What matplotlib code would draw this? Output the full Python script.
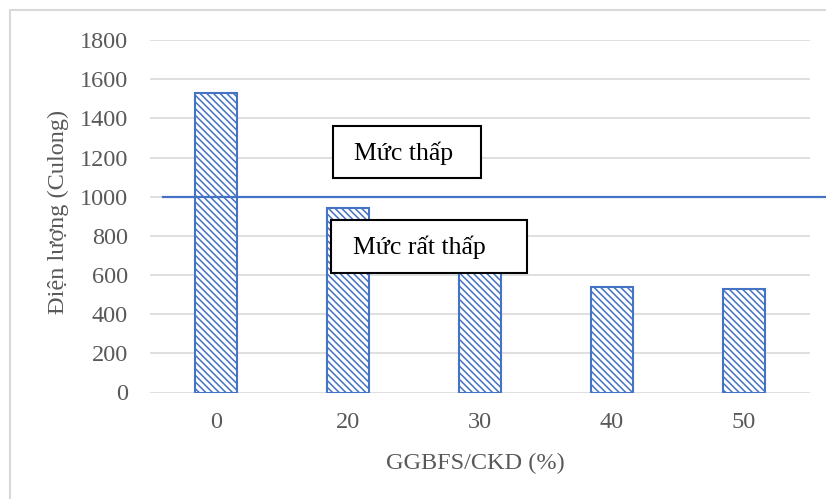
import matplotlib
matplotlib.use("Agg")
import matplotlib.pyplot as plt
from matplotlib.patches import Rectangle
import numpy as np

categories = ["0", "20", "30", "40", "50"]
values = [1530, 940, 680, 540, 530]
yticks = [0, 200, 400, 600, 800, 1000, 1200, 1400, 1600, 1800]
threshold = 1000
label_low = "Mức thấp"
label_very_low = "Mức rất thấp"
xlabel = "GGBFS/CKD (%)"
ylabel = "Điện lượng (Culong)"

plt.rcParams['font.family'] = ['Liberation Serif', 'DejaVu Serif']
plt.rcParams['hatch.linewidth'] = 1.1

W, H = 826, 499
fig = plt.figure(figsize=(W / 100, H / 100), dpi=100)
fig.patch.set_facecolor('white')

# outer chart border
fig.patches.append(Rectangle((10 / W, -0.05), 1.05, 1 - 10 / H + 0.05,
                             transform=fig.transFigure, fill=False,
                             edgecolor='#D9D9D9', linewidth=1.5, clip_on=False))

ax = fig.add_axes([150 / W, 1 - 392.5 / H, (810 - 150) / W, (392.5 - 40) / H])
blue = '#4472C4'
x = np.arange(len(categories))
ax.bar(x, values, width=0.32, color='white', edgecolor=blue, hatch='\\\\\\\\\\',
       linewidth=1.5, zorder=3)

ax.set_xlim(-0.5, len(categories) - 0.5)
ax.set_ylim(0, 1800)
ax.set_yticks(yticks)
ax.set_xticks(x)
ax.set_xticklabels(categories)
ax.grid(axis='y', color='#D9D9D9', linewidth=1.2, zorder=0)
ax.set_axisbelow(True)
for s in ax.spines.values():
    s.set_visible(False)
ax.tick_params(length=0, labelsize=17.5, labelcolor='#595959')
ax.tick_params(axis='y', pad=16)
ax.tick_params(axis='x', pad=14)
ax.set_xlabel(xlabel, fontsize=17.5, color='#595959')
ax.set_ylabel(ylabel, fontsize=17.5, color='#595959')
ax.xaxis.set_label_coords(0.493, -0.20)
ax.yaxis.set_label_coords(-0.139, 0.512)
ax.xaxis.label.set_va('center')
ax.yaxis.label.set_va('center')

# threshold line
ax.plot([-0.40, 4.7], [threshold, threshold], color=blue, linewidth=1.6,
        clip_on=False, zorder=4)

# annotation boxes
ax.add_patch(Rectangle((0.888, 1095), 2.011 - 0.888, 1361 - 1095, facecolor='white',
                       edgecolor='black', linewidth=1.5, zorder=5))
ax.text(1.048, (1095 + 1361) / 2 - 5, label_low, ha='left', va='center',
        fontsize=18.5, color='black', zorder=6)
ax.add_patch(Rectangle((0.873, 610), 2.353 - 0.873, 881 - 610, facecolor='white',
                       edgecolor='black', linewidth=1.5, zorder=5))
ax.text(1.040, (610 + 881) / 2 - 5, label_very_low, ha='left', va='center',
        fontsize=18.5, color='black', zorder=6)

fig.savefig('out.png', dpi=100)
